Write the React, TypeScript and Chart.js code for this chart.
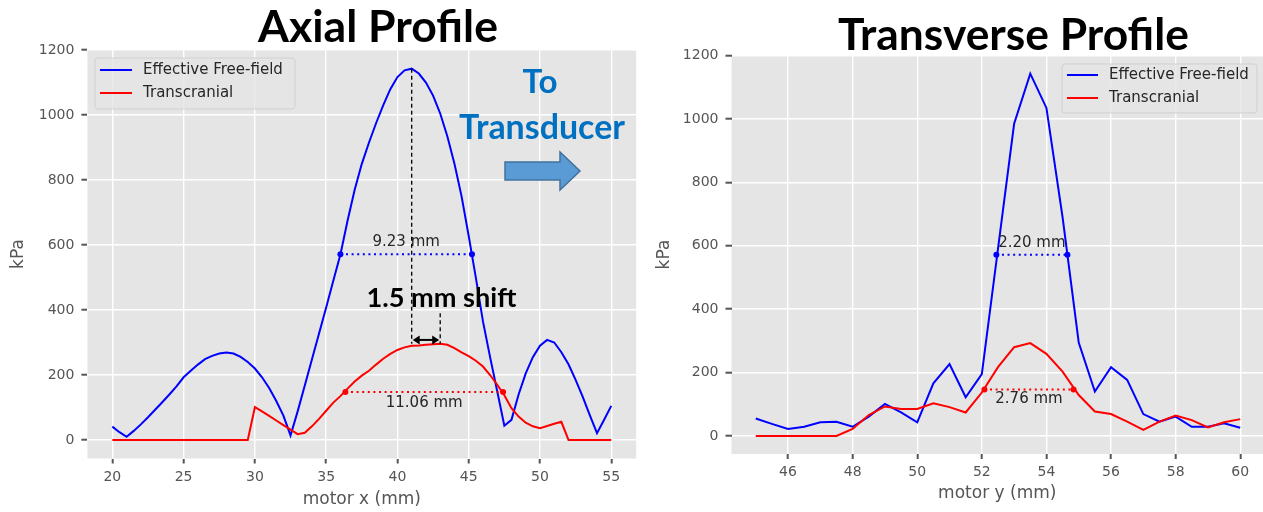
import { useEffect, useRef } from "react";
import { Chart, registerables } from "chart.js";

Chart.register(...registerables);

// ---------- Axial profile (motor x, mm) ----------
const axialX = [
  20, 20.5, 21, 21.5, 22, 22.5, 23, 23.5, 24, 24.5,
  25, 25.5, 26, 26.5, 27, 27.5, 28, 28.5, 29, 29.5,
  30, 30.5, 31, 31.5, 32, 32.5, 33, 33.5, 34, 34.5,
  35, 35.5, 36, 36.5, 37, 37.5, 38, 38.5, 39, 39.5,
  40, 40.5, 41, 41.5, 42, 42.5, 43, 43.5, 44, 44.5,
  45, 45.5, 46, 46.5, 47, 47.5, 48, 48.5, 49, 49.5,
  50, 50.5, 51, 51.5, 52, 52.5, 53, 53.5, 54, 54.5,
  55,
];
const axialFreeField = [
  41, 24, 10, 28, 48, 70, 93, 116, 140, 165,
  193, 213, 232, 249, 259, 266, 269, 266, 256, 240,
  220, 193, 160, 120, 75, 14, 88, 168, 248, 328,
  408, 490, 571, 675, 770, 850, 915, 975, 1030, 1080,
  1117, 1138, 1143, 1128, 1100, 1060, 1005, 935, 850, 750,
  628, 500, 365, 255, 150, 44, 62, 140, 205, 255,
  290, 308, 300, 270, 233, 185, 133, 76, 21, 62,
  105,
];
const axialTranscranial = [
  0, 0, 0, 0, 0, 0, 0, 0, 0, 0,
  0, 0, 0, 0, 0, 0, 0, 0, 0, 0,
  101, 88, 74, 60, 46, 32, 18, 22, 42, 65,
  90, 115, 135, 158, 180, 198, 213, 232, 250, 265,
  277, 285, 290, 291, 293, 295, 296, 293, 283, 270,
  258, 244, 226, 200, 170, 138, 98, 72, 53, 42,
  36, 43, 50, 56, 0, 0, 0, 0, 0, 0,
  0,
];
const axialXTicks = [20, 25, 30, 35, 40, 45, 50, 55];

// ---------- Transverse profile (motor y, mm) ----------
const transverseX = [
  45, 45.5, 46, 46.5, 47, 47.5, 48, 48.5, 49, 49.5,
  50, 50.5, 51, 51.5, 52, 52.5, 53, 53.5, 54, 54.5,
  55, 55.5, 56, 56.5, 57, 57.5, 58, 58.5, 59, 59.5,
  60,
];
const transverseFreeField = [
  55, 38, 22, 29, 43, 45, 29, 61, 101, 74,
  43, 166, 227, 122, 195, 590, 985, 1143, 1035, 690,
  295, 140, 217, 177, 69, 45, 61, 29, 29, 40,
  26,
];
const transverseTranscranial = [
  0, 0, 0, 0, 0, 0, 22, 66, 93, 85,
  85, 103, 91, 74, 137, 217, 280, 293, 259, 203,
  129, 77, 69, 45, 19, 45, 64, 50, 27, 43,
  53,
];
const transverseXTicks = [46, 48, 50, 52, 54, 56, 58, 60];

const pressureTicks = [0, 200, 400, 600, 800, 1000, 1200];
const seriesNames = ["Effective Free-field", "Transcranial"];

// Full width at half maximum markers (start position and width in mm)
const axialFreeFieldFwhm = { start: 36.0, width: 9.23 };
const axialTranscranialFwhm = { start: 36.35, width: 11.06 };
const transverseFreeFieldFwhm = { start: 52.45, width: 2.2 };
const transverseTranscranialFwhm = { start: 52.08, width: 2.76 };

// Focal shift annotation levels (kPa)
const shiftArrowLevel = 308;
const shiftGuideTop = 390;

const Y_MIN = -57;
const Y_MAX = 1202;
const BLUE = "#0000ff";
const RED = "#ff0000";
const TICK_COLOR = "#555555";
const TEXT_DARK = "#262626";
const SLIDE_BLUE = "#0070c0";

const argMax = (arr: number[]) => arr.indexOf(Math.max(...arr));

function fittedText(
  ctx: CanvasRenderingContext2D,
  text: string,
  left: number,
  right: number,
  baseline: number,
  color: string
) {
  ctx.font = "bold 100px Lato";
  const size = (100 * (right - left)) / ctx.measureText(text).width;
  ctx.font = `bold ${size}px Lato`;
  ctx.fillStyle = color;
  ctx.textAlign = "left";
  ctx.textBaseline = "alphabetic";
  ctx.fillText(text, left, baseline);
}

function drawFwhm(
  chart: Chart,
  fwhm: { start: number; width: number },
  series: number[],
  color: string,
  labelDy: number
) {
  const { ctx } = chart;
  const xs = chart.scales.x;
  const ys = chart.scales.y;
  const x0 = xs.getPixelForValue(fwhm.start);
  const x1 = xs.getPixelForValue(fwhm.start + fwhm.width);
  const py = ys.getPixelForValue(Math.max(...series) / 2);
  ctx.save();
  ctx.strokeStyle = color;
  ctx.lineWidth = 2;
  ctx.setLineDash([2, 3.6]);
  ctx.beginPath();
  ctx.moveTo(x0, py);
  ctx.lineTo(x1, py);
  ctx.stroke();
  ctx.setLineDash([]);
  ctx.fillStyle = color;
  for (const px of [x0, x1]) {
    ctx.beginPath();
    ctx.arc(px, py, 3, 0, Math.PI * 2);
    ctx.fill();
  }
  ctx.font = "15px 'DejaVu Sans'";
  ctx.fillStyle = TEXT_DARK;
  ctx.textAlign = "center";
  ctx.textBaseline = "middle";
  ctx.fillText(`${fwhm.width.toFixed(2)} mm`, (x0 + x1) / 2, py + labelDy);
  ctx.restore();
}

function drawLegend(
  ctx: CanvasRenderingContext2D,
  box: { left: number; top: number; width: number; height: number },
  lineX: [number, number],
  textX: number,
  rowsY: [number, number]
) {
  ctx.save();
  ctx.beginPath();
  if ((ctx as any).roundRect) (ctx as any).roundRect(box.left, box.top, box.width, box.height, 3);
  else ctx.rect(box.left, box.top, box.width, box.height);
  ctx.fillStyle = "rgba(229,229,229,0.8)";
  ctx.fill();
  ctx.strokeStyle = "rgba(204,204,204,0.8)";
  ctx.lineWidth = 1;
  ctx.stroke();
  const colors = [BLUE, RED];
  ctx.font = "15px 'DejaVu Sans'";
  ctx.textAlign = "left";
  ctx.textBaseline = "middle";
  seriesNames.forEach((name, i) => {
    ctx.strokeStyle = colors[i];
    ctx.lineWidth = 2;
    ctx.beginPath();
    ctx.moveTo(lineX[0], rowsY[i]);
    ctx.lineTo(lineX[1], rowsY[i]);
    ctx.stroke();
    ctx.fillStyle = TEXT_DARK;
    ctx.fillText(name, textX, rowsY[i]);
  });
  ctx.restore();
}

function drawAxisTitles(chart: Chart, xTitle: string, xTitleY: number, yTitleX: number) {
  const { ctx, chartArea: a } = chart;
  ctx.save();
  ctx.font = "17px 'DejaVu Sans'";
  ctx.fillStyle = TICK_COLOR;
  ctx.textAlign = "center";
  ctx.textBaseline = "middle";
  ctx.fillText(xTitle, (a.left + a.right) / 2, xTitleY);
  ctx.translate(yTitleX, (a.top + a.bottom) / 2);
  ctx.rotate(-Math.PI / 2);
  ctx.fillText("kPa", 0, 0);
  ctx.restore();
}

function drawAxialOverlay(chart: Chart) {
  const { ctx } = chart;
  const xs = chart.scales.x;
  const ys = chart.scales.y;

  drawFwhm(chart, axialFreeFieldFwhm, axialFreeField, BLUE, -12);
  drawFwhm(chart, axialTranscranialFwhm, axialTranscranial, RED, 11);

  // Focal shift between the free-field and transcranial peaks
  const iFree = argMax(axialFreeField);
  const iTrans = argMax(axialTranscranial);
  const xa = xs.getPixelForValue(axialX[iFree]);
  const xb = xs.getPixelForValue(axialX[iTrans]);
  const yPeakFree = ys.getPixelForValue(axialFreeField[iFree]);
  const yPeakTrans = ys.getPixelForValue(axialTranscranial[iTrans]);
  const yGuide = ys.getPixelForValue(shiftGuideTop);
  const yArrow = ys.getPixelForValue(shiftArrowLevel);
  ctx.save();
  ctx.strokeStyle = "#000";
  ctx.lineWidth = 1.3;
  ctx.setLineDash([4, 3]);
  ctx.beginPath();
  ctx.moveTo(xa, yPeakFree);
  ctx.lineTo(xa, yPeakTrans);
  ctx.moveTo(xb, yGuide);
  ctx.lineTo(xb, yPeakTrans);
  ctx.stroke();
  ctx.setLineDash([]);
  ctx.lineWidth = 2;
  ctx.beginPath();
  ctx.moveTo(xa + 4, yArrow);
  ctx.lineTo(xb - 4, yArrow);
  ctx.stroke();
  ctx.fillStyle = "#000";
  ctx.beginPath();
  ctx.moveTo(xa + 1, yArrow);
  ctx.lineTo(xa + 8, yArrow - 4.5);
  ctx.lineTo(xa + 8, yArrow + 4.5);
  ctx.closePath();
  ctx.moveTo(xb - 1, yArrow);
  ctx.lineTo(xb - 8, yArrow - 4.5);
  ctx.lineTo(xb - 8, yArrow + 4.5);
  ctx.closePath();
  ctx.fill();
  fittedText(ctx, "1.5 mm shift", 366.5, 516.5, 306.5, "#000");

  // Direction hint
  fittedText(ctx, "To", 522.5, 557.5, 93, SLIDE_BLUE);
  fittedText(ctx, "Transducer", 459, 625, 139, SLIDE_BLUE);
  ctx.beginPath();
  ctx.moveTo(505, 162);
  ctx.lineTo(560, 162);
  ctx.lineTo(560, 152);
  ctx.lineTo(580, 171);
  ctx.lineTo(560, 190);
  ctx.lineTo(560, 180);
  ctx.lineTo(505, 180);
  ctx.closePath();
  ctx.fillStyle = "#5b9bd5";
  ctx.fill();
  ctx.strokeStyle = "#41719c";
  ctx.lineWidth = 1.5;
  ctx.stroke();

  fittedText(ctx, "Axial Profile", 258, 498, 42, "#000");
  ctx.restore();

  drawLegend(ctx, { left: 95, top: 58, width: 200, height: 51 }, [100, 132], 143, [70, 93]);
  drawAxisTitles(chart, "motor x (mm)", 499.5, 19);
}

function drawTransverseOverlay(chart: Chart) {
  const { ctx } = chart;
  drawFwhm(chart, transverseFreeFieldFwhm, transverseFreeField, BLUE, -12);
  drawFwhm(chart, transverseTranscranialFwhm, transverseTranscranial, RED, 10);
  ctx.save();
  fittedText(ctx, "Transverse Profile", 198, 549, 50, "#000");
  ctx.restore();
  drawLegend(ctx, { left: 422, top: 64, width: 195, height: 49 }, [427, 458], 469, [75, 98]);
  drawAxisTitles(chart, "motor y (mm)", 494, 25);
}

const plotBackground = {
  id: "plotBackground",
  beforeDraw(chart: Chart) {
    const { ctx, chartArea: a } = chart;
    ctx.save();
    ctx.fillStyle = "#e5e5e5";
    ctx.fillRect(a.left, a.top, a.right - a.left, a.bottom - a.top);
    ctx.restore();
  },
};

type Panel = {
  x: number[];
  freeField: number[];
  transcranial: number[];
  xTicks: number[];
  xMin: number;
  xMax: number;
  yAxisWidth: number;
  xAxisHeight: number;
  padTop: number;
  padRight: number;
  overlay: (chart: Chart) => void;
};

function makeConfig(p: Panel): any {
  const tickFont = { family: "DejaVu Sans", size: 14 };
  const grid = {
    color: "#ffffff",
    lineWidth: 1.4,
    drawTicks: true,
    tickLength: 6,
    tickColor: TICK_COLOR,
    tickWidth: 2,
  };
  return {
    type: "line",
    data: {
      datasets: [
        {
          label: seriesNames[0],
          data: p.x.map((x, i) => ({ x, y: p.freeField[i] })),
          borderColor: BLUE,
          borderWidth: 2,
          pointRadius: 0,
          tension: 0,
          fill: false,
          order: 1,
        },
        {
          label: seriesNames[1],
          data: p.x.map((x, i) => ({ x, y: p.transcranial[i] })),
          borderColor: RED,
          borderWidth: 2,
          pointRadius: 0,
          tension: 0,
          fill: false,
          order: 0,
        },
      ],
    },
    options: {
      animation: false,
      responsive: false,
      devicePixelRatio: 1,
      events: [],
      layout: { padding: { top: p.padTop, right: p.padRight, bottom: 0, left: 0 } },
      plugins: {
        legend: { display: false },
        tooltip: { enabled: false },
        title: { display: false },
      },
      scales: {
        x: {
          type: "linear",
          min: p.xMin,
          max: p.xMax,
          afterBuildTicks: (s: any) => {
            s.ticks = p.xTicks.map((value) => ({ value }));
          },
          afterFit: (s: any) => {
            s.height = p.xAxisHeight;
          },
          grid: { ...grid, tickLength: 5 },
          border: { display: false },
          ticks: {
            font: tickFont,
            color: TICK_COLOR,
            padding: 5,
            maxRotation: 0,
            autoSkip: false,
            callback: (v: number) => String(v),
          },
        },
        y: {
          type: "linear",
          min: Y_MIN,
          max: Y_MAX,
          afterBuildTicks: (s: any) => {
            s.ticks = pressureTicks.map((value) => ({ value }));
          },
          afterFit: (s: any) => {
            s.width = p.yAxisWidth;
          },
          grid,
          border: { display: false },
          ticks: {
            font: tickFont,
            color: TICK_COLOR,
            padding: 7,
            autoSkip: false,
            callback: (v: number) => String(v),
          },
        },
      },
    },
    plugins: [plotBackground, { id: "overlay", afterDraw: p.overlay }],
  };
}

const axialPanel: Panel = {
  x: axialX,
  freeField: axialFreeField,
  transcranial: axialTranscranial,
  xTicks: axialXTicks,
  xMin: 18.25,
  xMax: 56.75,
  yAxisWidth: 87.4,
  xAxisHeight: 53.5,
  padTop: 49.5,
  padRight: 3.8,
  overlay: drawAxialOverlay,
};

const transversePanel: Panel = {
  x: transverseX,
  freeField: transverseFreeField,
  transcranial: transverseTranscranial,
  xTicks: transverseXTicks,
  xMin: 44.25,
  xMax: 60.705,
  yAxisWidth: 91.5,
  xAxisHeight: 58,
  padTop: 55,
  padRight: 0,
  overlay: drawTransverseOverlay,
};

function ProfileChart({ panel, left, width }: { panel: Panel; left: number; width: number }) {
  const ref = useRef<HTMLCanvasElement>(null);
  useEffect(() => {
    const chart = new Chart(ref.current as HTMLCanvasElement, makeConfig(panel));
    return () => chart.destroy();
  }, [panel]);
  return (
    <canvas
      ref={ref}
      width={width}
      height={512}
      style={{ position: "absolute", left, top: 0, width, height: 512 }}
    />
  );
}

export default function App() {
  return (
    <div
      style={{
        position: "fixed",
        left: 0,
        top: 0,
        width: 1263,
        height: 512,
        background: "#ffffff",
        overflow: "hidden",
      }}
    >
      <ProfileChart panel={axialPanel} left={0} width={640} />
      <ProfileChart panel={transversePanel} left={640} width={623} />
    </div>
  );
}
